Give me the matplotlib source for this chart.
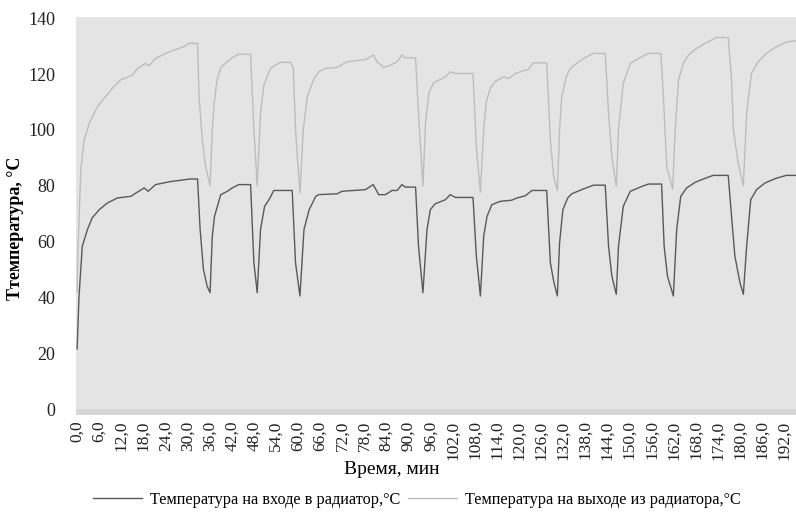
import matplotlib
matplotlib.use("Agg")
import matplotlib.pyplot as plt
from matplotlib.lines import Line2D

plt.rcParams['font.family'] = ['Liberation Serif', 'DejaVu Serif']

# Inlet temperature: time (min) and value (°C)
t_in = [0.0, 0.5, 1.4, 2.8, 4.1, 6.0, 8.2, 10.9, 14.6, 15.5, 18.2, 19.3, 21.3, 25.4, 29.0, 30.5, 32.7,
        33.4, 34.3, 35.3, 36.1,
        36.7, 37.3, 39.0, 40.8, 42.1, 43.9, 47.1,
        48.0, 48.9,
        49.8, 50.9, 52.1, 53.4, 58.4,
        59.3, 60.5,
        61.6, 63.0, 64.8, 65.6, 70.6, 71.9, 78.3, 80.4, 81.9, 83.7, 85.5, 86.9, 88.2, 89.1, 91.9,
        92.7, 93.9,
        95.0, 95.9, 97.2, 100.0, 101.3, 102.7, 107.5,
        108.4, 109.5,
        110.4, 111.3, 112.6, 114.9, 118.0, 119.4, 121.7, 123.5, 127.5,
        128.5, 129.4, 130.4,
        131.0, 131.9, 133.2, 134.3, 137.0, 140.2, 143.4,
        144.3, 145.2, 146.4,
        147.0, 148.3, 150.2, 152.9, 155.1, 158.7,
        159.4, 160.3, 161.9,
        162.8, 163.9, 165.5, 167.8, 170.0, 172.7, 176.8,
        177.7, 178.6, 180.0, 180.9,
        181.8, 182.9, 184.5, 186.8, 189.9, 192.6, 195.0]
temp_in = [21.5, 40.0, 58.3, 64.3, 68.5, 71.4, 73.8, 75.6, 76.2, 77.0, 79.2, 78.0, 80.4, 81.5, 82.1, 82.4, 82.4,
           64.3, 50.0, 44.0, 41.7,
           61.9, 69.0, 76.8, 78.0, 79.2, 80.4, 80.4,
           52.4, 41.7,
           64.3, 72.6, 75.0, 78.3, 78.3,
           52.4, 40.5,
           64.3, 71.4, 76.2, 76.8, 77.1, 78.0, 78.6, 80.4, 76.8, 76.8, 78.3, 78.3, 80.4, 79.5, 79.5,
           58.3, 41.7,
           64.3, 71.4, 73.5, 75.0, 76.8, 75.8, 75.8,
           54.8, 40.5,
           61.9, 69.0, 73.2, 74.4, 74.8, 75.6, 76.4, 78.3, 78.3,
           52.4, 45.8, 40.5,
           59.5, 71.4, 75.6, 77.1, 78.6, 80.2, 80.2,
           58.3, 47.6, 41.1,
           58.3, 72.6, 78.0, 79.5, 80.6, 80.6,
           58.3, 47.6, 40.5,
           64.3, 76.2, 79.2, 81.2, 82.4, 83.7, 83.7,
           69.0, 54.8, 45.2, 41.1,
           58.3, 75.0, 78.6, 81.0, 82.7, 83.7, 83.7]

# Outlet temperature: time (min) and value (°C)
t_out = [0.0, 0.2, 1.0, 1.9, 3.3, 5.5, 7.3, 9.6, 11.8, 15.0, 16.4, 18.6, 19.5, 21.3, 24.1, 26.3, 29.0, 30.4, 32.7,
         33.1, 34.0, 34.9, 36.1,
         36.7, 37.2, 38.0, 39.0, 40.8, 42.1, 43.9, 47.1,
         48.0, 48.9,
         49.8, 50.7, 52.5, 53.9, 55.2, 58.0, 58.7,
         59.3, 60.5,
         61.4, 62.5, 64.3, 65.6, 67.4, 70.6, 73.3, 78.3, 80.5, 81.4, 83.3, 85.1, 86.9, 88.2, 89.1, 91.9,
         92.7, 93.9,
         94.6, 95.5, 96.8, 100.0, 101.3, 102.7, 107.5,
         108.4, 109.5,
         110.4, 111.1, 112.2, 113.5, 115.8, 117.2, 119.0, 121.2, 122.6, 123.7, 127.5,
         128.5, 129.4, 130.4,
         131.0, 131.6, 132.8, 133.9, 136.6, 138.4, 140.2, 143.4,
         144.3, 145.2, 146.4,
         147.0, 148.3, 150.2, 152.9, 155.1, 158.5,
         159.2, 160.1, 161.7,
         162.4, 163.3, 164.6, 166.0, 168.2, 170.5, 173.6, 176.8,
         177.7, 178.2, 179.5, 180.9,
         181.8, 183.1, 184.9, 187.2, 189.9, 192.6, 195.0]
temp_out = [42.0, 56.0, 85.7, 96.4, 102.4, 108.3, 111.3, 114.9, 117.9, 119.6, 122.0, 123.8, 122.9, 125.6, 127.4, 128.6, 129.8, 131.0, 131.0,
            111.9, 96.4, 86.9, 80.0,
            100.0, 109.5, 117.9, 122.4, 124.4, 125.9, 127.1, 127.1,
            100.0, 80.0,
            106.0, 116.0, 122.0, 123.2, 124.2, 124.2, 122.0,
            100.0, 77.4,
            100.0, 111.9, 118.4, 120.8, 122.0, 122.4, 124.4, 125.2, 126.8, 124.4, 122.4, 123.2, 124.4, 126.8, 125.8, 125.8,
            106.0, 80.0,
            102.4, 113.1, 116.9, 119.0, 120.8, 120.2, 120.2,
            94.0, 77.6,
            100.0, 110.1, 114.9, 117.3, 119.0, 118.4, 120.2, 121.2, 121.7, 124.0, 124.0,
            96.4, 83.3, 78.3,
            100.0, 111.9, 119.0, 122.0, 124.8, 126.2, 127.4, 127.4,
            106.0, 90.5, 79.8,
            100.0, 116.7, 123.8, 125.9, 127.4, 127.4,
            111.9, 86.9, 78.8,
            100.0, 117.9, 123.8, 126.8, 129.2, 131.0, 133.1, 133.1,
            117.9, 100.0, 88.1, 80.0,
            106.0, 120.2, 124.4, 127.4, 129.8, 131.5, 131.9]

x_ticks = list(range(0, 193, 6))
y_ticks = [0, 20, 40, 60, 80, 100, 120, 140]
label_in = "Температура на входе в радиатор,°С"
label_out = "Температура на выходе из радиатора,°С"

fig = plt.figure(figsize=(7.96, 5.18), dpi=100)
ax = fig.add_axes([0.0955, 0.199, 0.9045, 0.768])
ax.set_facecolor('#e4e4e4')

# floor strip under the zero line
ax.axhspan(-2.1, 0, color='#d6d6d6', lw=0, zorder=1)

ax.plot(t_in, temp_in, color='#595959', lw=1.0, zorder=3)
ax.plot(t_out, temp_out, color='#bdbdbd', lw=1.0, zorder=3)

ax.set_xlim(-0.3, 195.2)
ax.set_ylim(-2.1, 140.4)
ax.set_xticks(x_ticks)
ax.set_xticklabels([f"{v:.1f}".replace('.', ',') for v in x_ticks], rotation=90, fontsize=12.5)
ax.set_yticks(y_ticks)
ax.set_yticklabels([str(v) for v in y_ticks], fontsize=13)
ax.tick_params(axis='both', length=0, colors='#222222')
ax.tick_params(axis='y', pad=15)
ax.tick_params(axis='x', pad=4)
for s in ax.spines.values():
    s.set_visible(False)

fig.text(0.492, 0.093, "Время, мин", ha='center', va='center', fontsize=14)
fig.text(0.019, 0.56, "Ттемпература, °С", ha='center', va='center', rotation=90,
         fontsize=13, fontweight='bold')

handles = [Line2D([], [], color='#595959', lw=1.0), Line2D([], [], color='#bdbdbd', lw=1.0)]
fig.legend(handles, [label_in, label_out], loc='center', bbox_to_anchor=(0.524, 0.035),
           ncol=2, frameon=False, fontsize=11.7, handlelength=3.0, handletextpad=0.5,
           columnspacing=0.5)

fig.savefig("out.png", dpi=100, facecolor='white')
